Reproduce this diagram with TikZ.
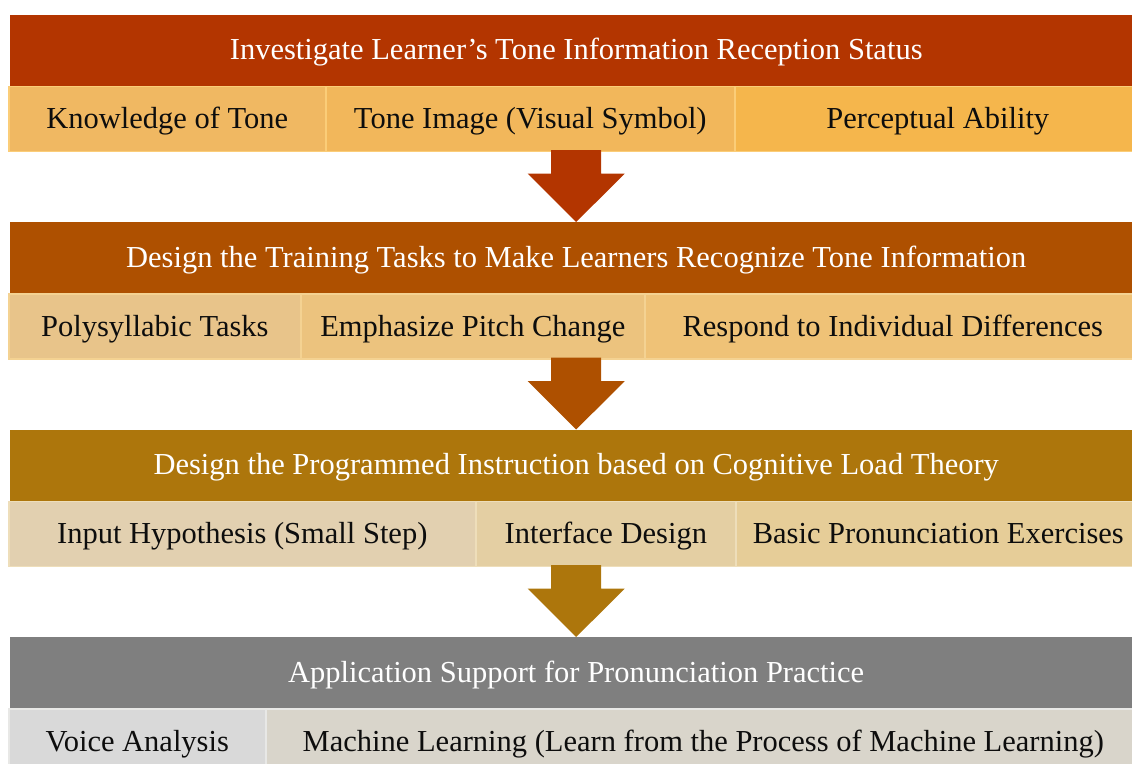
\documentclass[tikz,border=0pt]{standalone}
\usepackage{fontspec}
\setmainfont{Liberation Serif}
\usetikzlibrary{calc}

% stage header colours
\definecolor{hA}{RGB}{179,53,0}
\definecolor{hB}{RGB}{174,80,0}
\definecolor{hC}{RGB}{173,118,12}
\definecolor{hD}{RGB}{127,127,127}
% cell fills and outlines
\definecolor{fA1}{RGB}{240,184,98}
\definecolor{fA2}{RGB}{242,183,91}
\definecolor{fA3}{RGB}{245,182,76}
\definecolor{bA}{RGB}{251,205,120}
\definecolor{fB1}{RGB}{232,196,138}
\definecolor{fB2}{RGB}{236,195,126}
\definecolor{fB3}{RGB}{239,194,119}
\definecolor{bB}{RGB}{244,210,146}
\definecolor{fC1}{RGB}{226,208,176}
\definecolor{fC2}{RGB}{228,207,163}
\definecolor{fC3}{RGB}{230,205,152}
\definecolor{bC}{RGB}{238,222,186}
\definecolor{fD1}{RGB}{217,217,217}
\definecolor{fD2}{RGB}{217,213,203}
\definecolor{bD}{RGB}{232,232,230}
\definecolor{ink}{RGB}{13,13,13}

\begin{document}
\begin{tikzpicture}[x=1pt,y=-1pt,
  hdr/.style={rectangle, inner sep=0pt, minimum height=71pt, minimum width=1132pt,
    anchor=north west, text=white, font=\fontsize{30.5}{32}\selectfont,
    text height=19pt, text depth=0pt},
  cell/.style={rectangle, inner sep=0pt, minimum height=65pt, anchor=north west,
    line width=1.6pt, text=ink, font=\fontsize{30.5}{32}\selectfont,
    text height=19.5pt, text depth=0pt},
]
\useasboundingbox (0,0) rectangle (1132,763);
\begin{scope}
\clip (0,0) rectangle (1132,763);

% stage 1
\node[hdr, fill=hA] (h1) at (10,14.5) {Investigate Learner's Tone Information Reception Status};
\node[cell, fill=fA1, draw=bA, minimum width=317pt] (a1) at (8,85.5) {Knowledge of Tone};
\node[cell, fill=fA2, draw=bA, minimum width=409pt] (a2) at (325,85.5) {Tone Image (Visual Symbol)};
\node[cell, fill=fA3, draw=bA, minimum width=406pt] (a3) at (734,85.5) {Perceptual Ability};

% stage 2
\node[hdr, fill=hB] (h2) at (10,222) {Design the Training Tasks to Make Learners Recognize Tone Information};
\node[cell, fill=fB1, draw=bB, minimum width=292pt] (b1) at (8,293) {Polysyllabic Tasks};
\node[cell, fill=fB2, draw=bB, minimum width=344pt] (b2) at (300,293) {Emphasize Pitch Change};
\node[cell, fill=fB3, draw=bB, minimum width=496pt] (b3) at (644,293) {Respond to Individual Differences};

% stage 3
\node[hdr, fill=hC] (h3) at (10,429.5) {Design the Programmed Instruction based on Cognitive Load Theory};
\node[cell, fill=fC1, draw=bC, minimum width=467pt] (c1) at (8,500.5) {Input Hypothesis (Small Step)};
\node[cell, fill=fC2, draw=bC, minimum width=260pt] (c2) at (475,500.5) {Interface Design};
\node[cell, fill=fC3, draw=bC, minimum width=405pt] (c3) at (735,500.5) {Basic Pronunciation Exercises};

% stage 4
\node[hdr, fill=hD] (h4) at (10,637) {Application Support for Pronunciation Practice};
\node[cell, fill=fD1, draw=bD, minimum width=257pt] (d1) at (8,708) {Voice Analysis};
\node[cell, fill=fD2, draw=bD, minimum width=875pt] (d2) at (265,708) {Machine Learning (Learn from the Process of Machine Learning)};

% block arrows between stages
\coordinate (s1) at (a1.south -| h1.center);
\coordinate (s2) at (b1.south -| h2.center);
\coordinate (s3) at (c1.south -| h3.center);
\fill[hA] ($(s1)+(-25,-2)$) -- ($(s1)+(-25,21.5)$) -- ($(s1)+(-48.5,21.5)$) -- (h2.north -| s1)
  -- ($(s1)+(48.5,21.5)$) -- ($(s1)+(25,21.5)$) -- ($(s1)+(25,-2)$) -- cycle;
\fill[hB] ($(s2)+(-25,-2)$) -- ($(s2)+(-25,21.5)$) -- ($(s2)+(-48.5,21.5)$) -- (h3.north -| s2)
  -- ($(s2)+(48.5,21.5)$) -- ($(s2)+(25,21.5)$) -- ($(s2)+(25,-2)$) -- cycle;
\fill[hC] ($(s3)+(-25,-2)$) -- ($(s3)+(-25,21.5)$) -- ($(s3)+(-48.5,21.5)$) -- (h4.north -| s3)
  -- ($(s3)+(48.5,21.5)$) -- ($(s3)+(25,21.5)$) -- ($(s3)+(25,-2)$) -- cycle;
\end{scope}
\end{tikzpicture}
\end{document}
